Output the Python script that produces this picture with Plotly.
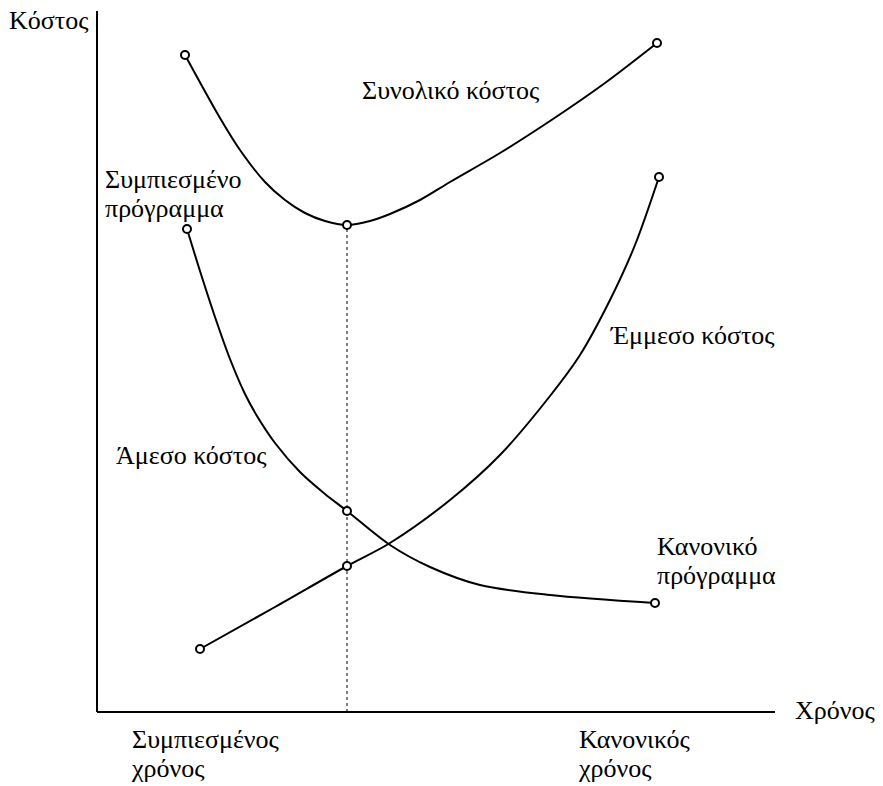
import plotly.graph_objects as go

# Cost–time trade-off curves (time on x, cost on y, arbitrary units)
total_x = [88, 123, 143, 168, 188, 208, 228, 250, 273, 293, 323, 353, 403, 456, 508, 560]
total_y = [657, 594, 562, 530, 512, 499, 491, 487, 491, 498, 512, 530, 559, 593, 629, 669]

direct_x = [90, 103, 118, 133, 148, 160, 178, 203, 228, 250, 293, 333, 383, 453, 558]
direct_y = [483, 441, 395, 353, 318, 296, 269, 240, 218, 201, 167, 145, 127, 117, 109]

indirect_x = [103, 178, 250, 293, 353, 403, 453, 483, 513, 538, 562]
indirect_y = [63, 105, 146, 169, 212, 257, 316, 357, 412, 467, 535]

# text labels and where they sit (left edge, vertical middle)
label_text = ["Κόστος", "Συνολικό κόστος", "Συμπιεσμένο", "πρόγραμμα",
              "Άμεσο κόστος", "Έμμεσο κόστος", "Κανονικό", "πρόγραμμα",
              "Χρόνος", "Συμπιεσμένος", "χρόνος", "Κανονικός", "χρόνος"]
label_x = [-88, 265, 8, 8, 19, 514, 560, 560, 698, 35, 35, 482, 482]
label_y = [690, 620, 531, 502, 255, 375, 164, 135, 0, -29, -58, -29, -58]

x_axis_end = 678
y_axis_end = 701

FONT = "Liberation Serif, Times New Roman, serif"
FS = 26

fig = go.Figure()

curve_style = dict(color="black", width=2, shape="spline", smoothing=0.9)
for xs, ys in [(total_x, total_y), (direct_x, direct_y), (indirect_x, indirect_y)]:
    fig.add_trace(go.Scatter(x=xs, y=ys, mode="lines", line=curve_style,
                             hoverinfo="skip", showlegend=False))

# optimum: minimum of total cost, projected down to the time axis
i_opt = total_y.index(min(total_y))
opt_x = total_x[i_opt]
opt_y = total_y[i_opt]
fig.add_trace(go.Scatter(x=[opt_x, opt_x], y=[0, opt_y], mode="lines",
                         line=dict(color="black", width=1, dash="dot"),
                         hoverinfo="skip", showlegend=False))

# axes
fig.add_trace(go.Scatter(x=[0, x_axis_end], y=[0, 0], mode="lines",
                         line=dict(color="black", width=2),
                         hoverinfo="skip", showlegend=False))
fig.add_trace(go.Scatter(x=[0, 0], y=[0, y_axis_end], mode="lines",
                         line=dict(color="black", width=2),
                         hoverinfo="skip", showlegend=False))

# open circles at curve ends and on the optimum line
mx = [total_x[0], total_x[-1], opt_x,
      direct_x[0], direct_x[-1], direct_x[direct_x.index(opt_x)],
      indirect_x[0], indirect_x[-1], indirect_x[indirect_x.index(opt_x)]]
my = [total_y[0], total_y[-1], opt_y,
      direct_y[0], direct_y[-1], direct_y[direct_x.index(opt_x)],
      indirect_y[0], indirect_y[-1], indirect_y[indirect_x.index(opt_x)]]
fig.add_trace(go.Scatter(x=mx, y=my, mode="markers",
                         marker=dict(symbol="circle", size=8, color="white",
                                     line=dict(color="black", width=2)),
                         hoverinfo="skip", showlegend=False))

fig.add_trace(go.Scatter(x=label_x, y=label_y, text=label_text, mode="text",
                         textposition="middle right",
                         textfont=dict(family=FONT, size=FS, color="black"),
                         hoverinfo="skip", showlegend=False))

fig.update_layout(
    width=883, height=786,
    margin=dict(l=0, r=0, t=0, b=0),
    paper_bgcolor="white", plot_bgcolor="white",
    xaxis=dict(range=[-97, 786], visible=False, fixedrange=True),
    yaxis=dict(range=[-74, 712], visible=False, fixedrange=True),
)

fig.write_html("out.html")
